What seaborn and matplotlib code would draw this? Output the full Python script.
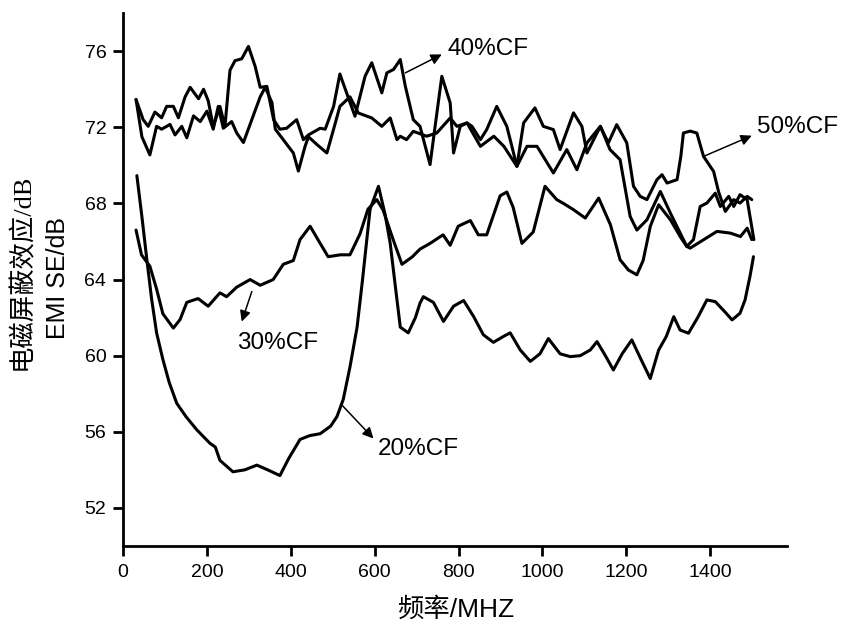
import numpy as np
import matplotlib
matplotlib.use("Agg")
import matplotlib.pyplot as plt
import seaborn as sns

# frequency (MHz) / shielding effectiveness (dB)
f20 = [33, 45, 57, 68, 80, 95, 110, 128, 150, 176, 207, 220, 231, 262, 290, 319, 345, 374, 395, 422,
       445, 470, 495, 510, 525, 541, 558, 570, 589, 609, 625, 637, 650, 661, 680, 697, 708, 716, 740, 764,
       788, 812, 836, 859, 883, 906, 923, 947, 971, 994, 1014, 1042, 1066, 1090, 1114, 1130, 1150, 1169,
       1190, 1213, 1235, 1257, 1277, 1295, 1313, 1328, 1348, 1370, 1392, 1412, 1435, 1452, 1471, 1483,
       1495, 1503]
se20 = [69.46, 67.3, 65.0, 63.0, 61.2, 59.8, 58.6, 57.5, 56.8, 56.1, 55.4, 55.2, 54.5, 53.9, 54.0, 54.25,
        54.0, 53.7, 54.6, 55.6, 55.8, 55.9, 56.3, 56.8, 57.7, 59.4, 61.5, 63.8, 67.7, 68.9, 67.4, 65.9, 63.5,
        61.5, 61.2, 62.0, 62.76, 63.1, 62.8, 61.8, 62.6, 62.9, 62.05, 61.1, 60.7, 61.0, 61.2, 60.3, 59.7,
        60.1, 60.9, 60.1, 59.95, 60.0, 60.3, 60.74, 60.0, 59.25, 60.1, 60.83, 59.8, 58.8, 60.3, 61.0, 62.05,
        61.35, 61.18, 62.0, 62.93, 62.84, 62.3, 61.88, 62.23, 62.93, 64.2, 65.2]

f30 = [31, 44, 64, 80, 95, 120, 136, 152, 165, 179, 203, 231, 247, 271, 303, 327, 358, 382, 406, 422,
       446, 470, 489, 518, 541, 565, 584, 605, 620, 644, 665, 690, 708, 732, 763, 780, 799, 828, 847, 867,
       899, 915, 930, 951, 978, 1006, 1034, 1050, 1074, 1102, 1134, 1162, 1185, 1205, 1225, 1240, 1257,
       1277, 1305, 1330, 1344, 1352, 1384, 1416, 1448, 1472, 1488, 1499]
se30 = [66.6, 65.3, 64.7, 63.5, 62.2, 61.45, 61.9, 62.8, 62.9, 63.0, 62.6, 63.3, 63.1, 63.6, 64.0, 63.7,
        64.0, 64.8, 65.0, 66.1, 66.8, 65.9, 65.2, 65.3, 65.3, 66.4, 67.7, 68.2, 67.65, 66.1, 64.8, 65.2,
        65.6, 65.9, 66.35, 65.8, 66.8, 67.1, 66.35, 66.35, 68.4, 68.6, 67.8, 65.9, 66.5, 68.9, 68.2, 68.0,
        67.67, 67.23, 68.28, 66.88, 65.04, 64.5, 64.25, 65.0, 66.79, 67.93, 67.14, 66.2, 65.74, 65.65,
        66.09, 66.53, 66.44, 66.26, 66.7, 66.1]

f40 = [31, 48, 60, 76, 92, 104, 120, 132, 148, 160, 180, 192, 203, 215, 231, 243, 255, 267, 283, 299,
       315, 327, 343, 359, 374, 390, 414, 430, 442, 470, 482, 502, 517, 533, 553, 577, 593, 617, 629, 645,
       661, 673, 692, 708, 732, 744, 760, 780, 788, 804, 820, 832, 852, 867, 891, 915, 939, 963, 987, 1026,
       1058, 1082, 1106, 1138, 1161, 1185, 1209, 1225, 1249, 1281, 1305, 1344, 1360, 1376, 1392, 1412,
       1424, 1444, 1456, 1471, 1488, 1504]
se40 = [73.46, 72.4, 72.05, 72.8, 72.5, 73.1, 73.1, 72.5, 73.6, 74.1, 73.5, 74.0, 73.4, 72.05, 73.1,
        72.05, 75.0, 75.5, 75.6, 76.25, 75.2, 74.1, 74.15, 72.4, 71.9, 71.95, 72.4, 71.35, 71.6, 71.95,
        71.9, 73.1, 74.8, 73.81, 72.58, 74.68, 75.39, 73.81, 74.86, 75.04, 75.56, 74.16, 72.4, 72.05,
        70.04, 72.05, 74.68, 73.28, 70.65, 72.05, 72.23, 72.05, 71.35, 71.88, 73.1, 72.05, 69.95, 71.0,
        71.0, 69.6, 70.83, 69.77, 71.18, 72.05, 70.83, 70.3, 67.32, 66.6, 67.14, 68.63, 67.49, 65.74,
        66.1, 67.84, 68.02, 68.54, 67.84, 68.37, 67.84, 68.46, 68.2, 66.1]

f50 = [31, 45, 64, 80, 92, 112, 124, 140, 152, 168, 184, 200, 215, 227, 239, 259, 271, 287, 307, 327,
       339, 355, 363, 382, 406, 418, 434, 442, 462, 486, 502, 517, 541, 561, 593, 617, 637, 653, 661, 676,
       692, 724, 748, 780, 796, 820, 852, 884, 908, 939, 955, 982, 1002, 1026, 1042, 1074, 1094, 1106,
       1122, 1138, 1157, 1177, 1201, 1217, 1233, 1249, 1273, 1285, 1297, 1321, 1330, 1336, 1352, 1368,
       1384, 1408, 1420, 1436, 1456, 1471, 1488, 1499]
se50 = [73.46, 71.5, 70.55, 72.05, 71.9, 72.15, 71.6, 72.05, 71.45, 72.6, 72.3, 72.85, 71.9, 73.1, 71.95,
        72.3, 71.7, 71.2, 72.4, 73.6, 74.1, 73.3, 71.9, 71.35, 70.65, 69.7, 71.0, 71.5, 71.1, 70.65, 71.9,
        73.1, 73.6, 72.75, 72.49, 72.05, 72.49, 71.35, 71.53, 71.35, 71.79, 71.53, 71.7, 72.49, 72.05,
        72.23, 71.0, 71.53, 71.0, 69.95, 72.23, 73.02, 72.05, 71.88, 70.83, 72.76, 72.05, 70.65, 71.35,
        72.05, 71.18, 72.14, 71.18, 68.9, 68.37, 68.2, 69.25, 69.51, 69.07, 69.25, 70.5, 71.7, 71.8, 71.7,
        70.47, 69.68, 68.6, 67.58, 68.2, 68.02, 68.37, 68.2]

# label text, text anchor (left, middle), arrow tail, arrow head
labels = ["20%CF", "30%CF", "40%CF", "50%CF"]
label_xy = [(608, 55.1), (271, 60.67), (773, 76.09), (1511, 72.0)]
arrow_from = [(522, 57.4), (307, 63.37), (673, 74.86), (1384, 70.47)]
arrow_to = [(597, 55.65), (283, 61.79), (760, 75.83), (1499, 71.56)]

sns.set_style("ticks")
plt.rcParams["font.family"] = ["Liberation Sans", "Noto Sans CJK SC"]
for key in ["text.color", "axes.labelcolor", "xtick.color", "ytick.color", "axes.edgecolor"]:
    plt.rcParams[key] = "k"

fig = plt.figure(figsize=(8.41, 6.24), dpi=100)
ax = fig.add_axes([0.1463, 0.125, 0.7895, 0.854])

for f, se in [(f20, se20), (f30, se30), (f40, se40), (f50, se50)]:
    sns.lineplot(x=f, y=se, ax=ax, color="k", lw=2.2, estimator=None, sort=False)

for txt, xy, a0, a1 in zip(labels, label_xy, arrow_from, arrow_to):
    ax.annotate("", xy=a1, xytext=a0, annotation_clip=False,
                arrowprops=dict(arrowstyle="-|>", color="k", lw=1.1, mutation_scale=16,
                                shrinkA=0, shrinkB=0))
    ax.text(xy[0], xy[1], txt, fontsize=17.5, color="k", ha="left", va="center", clip_on=False)

ax.set_xlim(0, 1583)
ax.set_ylim(50, 78)
ax.set_xticks(np.arange(0, 1401, 200))
ax.set_yticks(np.arange(52, 77, 4))
sns.despine(ax=ax)
for s in ["left", "bottom"]:
    ax.spines[s].set_linewidth(2)
    ax.spines[s].set_color("k")
ax.tick_params(direction="out", length=7, width=2, labelsize=14, colors="k")
ax.tick_params(axis="x", pad=6)
ax.tick_params(axis="y", pad=5)
ax.set_xlabel("")
ax.set_ylabel("")

fig.text(0.026, 0.564, "电磁屏蔽效应/dB", rotation=90, ha="center", va="center", color="k",
         fontsize=19, family=["Liberation Serif", "Noto Sans CJK SC"])
fig.text(0.069, 0.555, "EMI SE/dB", rotation=90, ha="center", va="center", color="k", fontsize=18)
fig.text(0.542, 0.024, "频率/MHZ", ha="center", va="center", color="k", fontsize=19)

fig.savefig("out.png", dpi=100)
